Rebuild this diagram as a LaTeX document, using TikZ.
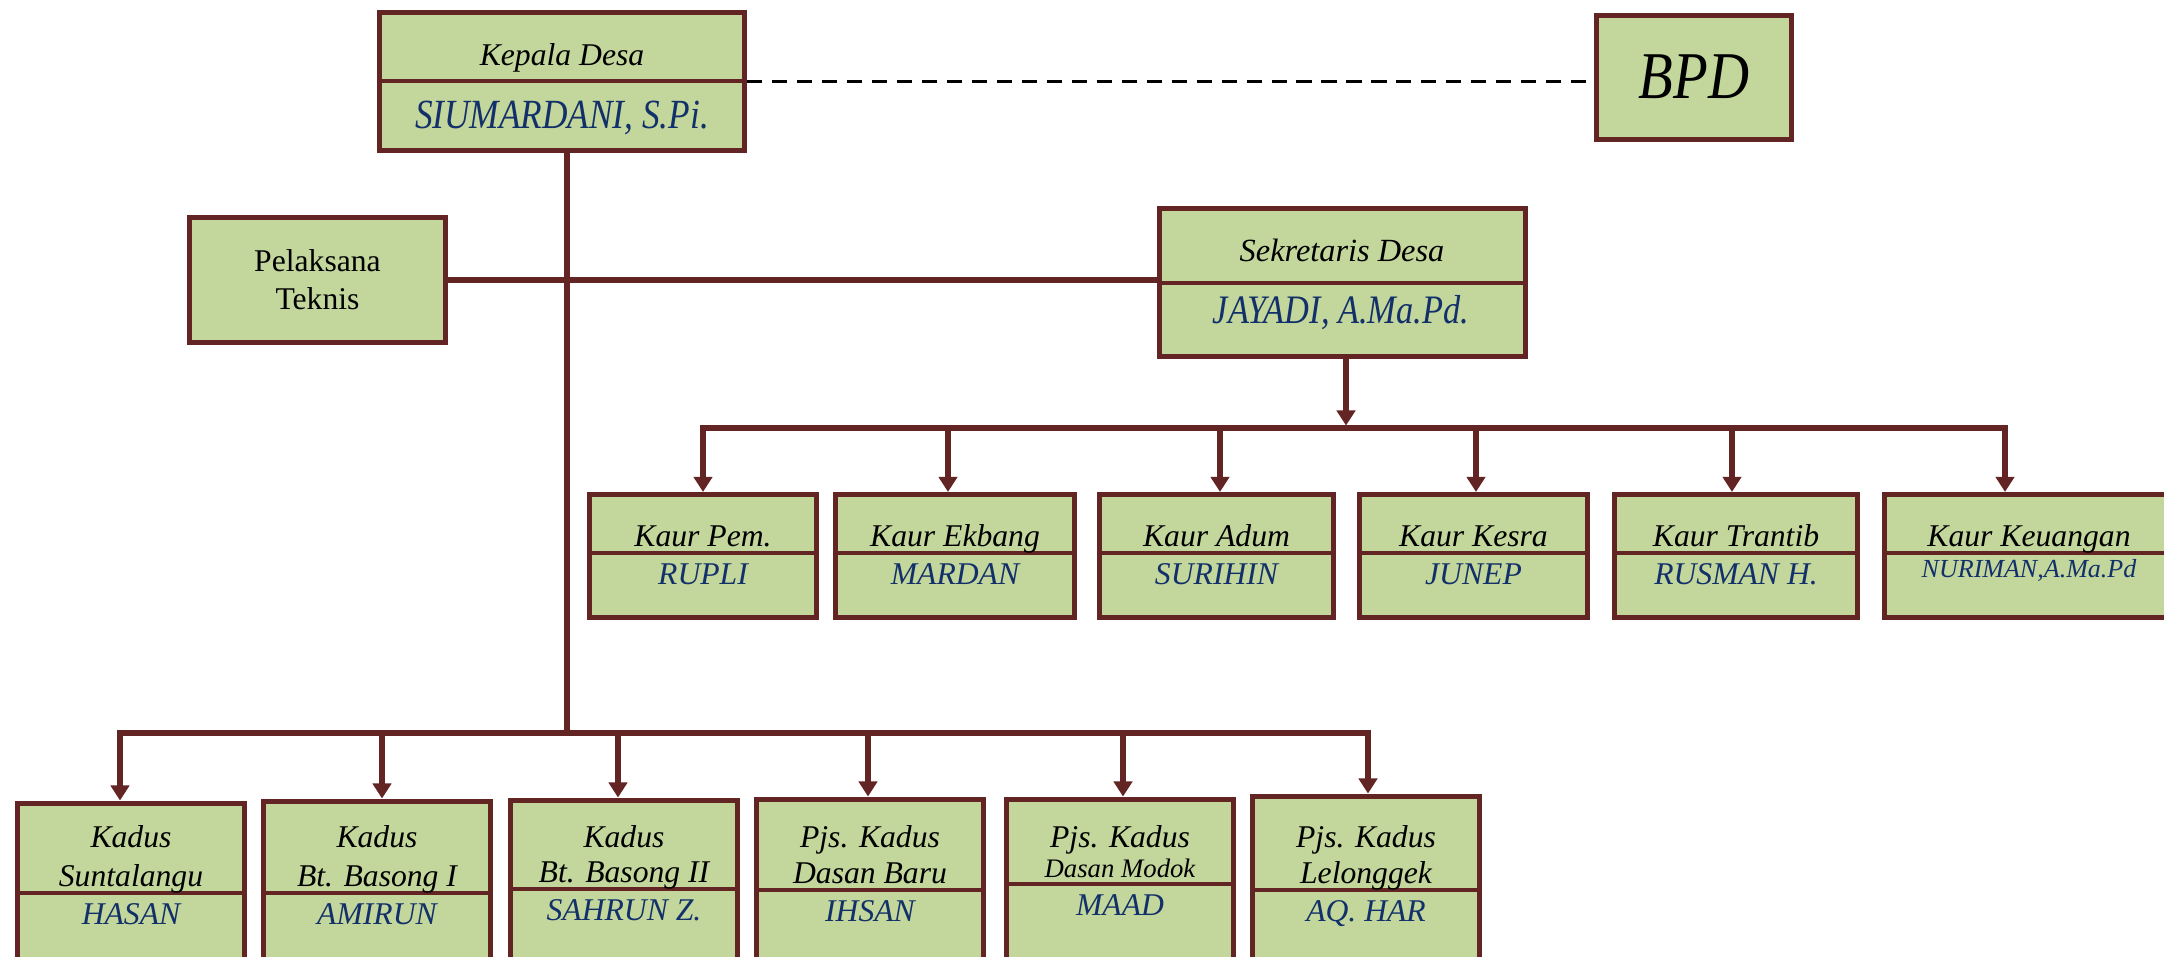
\documentclass[tikz,border=0pt]{standalone}
\usepackage{fontspec}
\setmainfont{Liberation Serif}
\newfontfamily\namafont[FakeStretch=0.85]{Liberation Serif}
\usepackage{tikz}
\usetikzlibrary{arrows.meta,positioning}
\definecolor{hijau}{HTML}{C3D69B}
\definecolor{marun}{HTML}{632523}
\definecolor{biru}{HTML}{12306A}

\tikzset{
  kotak/.style={draw=marun, fill=hijau, line width=1.45pt, inner sep=0pt},
  sekat/.style={draw=marun, line width=1.1pt},
  garis/.style={draw=marun, line width=1.5pt, line join=miter},
  panah/.style={garis, -{Triangle[width=5.2pt,length=4.3pt]}},
  panahdua/.style={garis, {Triangle[width=5.2pt,length=4.3pt]}-{Triangle[width=5.2pt,length=4.3pt]}},
  jab/.style={font=\fontsize{9}{10.5}\selectfont\itshape, anchor=base},
  nama/.style={font=\fontsize{9}{10.5}\selectfont\itshape, text=biru, anchor=base}
}

\begin{document}
\begin{tikzpicture}[x=0.01cm, y=-0.01cm]
\useasboundingbox (0,0) rectangle (2164,956);
\clip (0,0) rectangle (2164,956);

% Kepala desa and BPD
\node[kotak, minimum width=3.65cm, minimum height=1.38cm] (kades) at (562,81.5) {};
\draw[sekat] (kades.west |- 0,81) -- (kades.east |- 0,81);
\node[jab] at (562,65) {Kepala Desa};
\node[nama, font=\namafont\itshape\fontsize{11.8}{14}\selectfont] at (562,128) {SIUMARDANI, S.Pi.};
\node[kotak, minimum width=1.95cm, minimum height=1.24cm] (bpd) at (1694,77.5) {};
\node[anchor=base, font=\namafont\itshape\fontsize{19}{22}\selectfont] at (1694,98) {BPD};
\draw[black, line width=0.9pt, dash pattern=on 4.3pt off 2.8pt] (kades.east) -- (kades.east -| bpd.west);

% Sekretaris and pelaksana teknis
\node[kotak, minimum width=2.56cm, minimum height=1.25cm, align=center, font=\fontsize{9}{10.8}\selectfont] (pt) at (317.5,280) {Pelaksana\\Teknis};
\node[kotak, minimum width=3.66cm, minimum height=1.48cm] (sekdes) at (1342.5,282.5) {};
\draw[sekat] (sekdes.west |- 0,283) -- (sekdes.east |- 0,283);
\node[jab, font=\fontsize{9.2}{11}\selectfont\itshape] at (1342,261) {Sekretaris Desa};
\node[nama, font=\namafont\itshape\fontsize{11.5}{14}\selectfont] at (1341,323) {JAYADI, A.Ma.Pd.};
\draw[garis] (pt.east) -- (pt.east -| sekdes.west);
\coordinate (cabang) at (567,733);
\draw[garis] (kades.south -| cabang) -- (cabang);

% Kaur row
\foreach \no/\cx/\w/\dx/\jab/\nama in {1/703/2.27/703/Kaur Pem./RUPLI, 2/955/2.39/948/Kaur Ekbang/MARDAN,
    3/1216.5/2.34/1220/Kaur Adum/SURIHIN, 4/1473.5/2.28/1476/Kaur Kesra/JUNEP,
    5/1736/2.43/1732/Kaur Trantib/RUSMAN H., 6/2029/2.89/2005/Kaur Keuangan/{}}{
  \node[kotak, minimum width=\w cm, minimum height=1.23cm] (kaur\no) at (\cx,556) {};
  \draw[sekat] (kaur\no.west |- 0,553) -- (kaur\no.east |- 0,553);
  \node[jab] at (\cx,546) {\jab};
  \node[nama] at (\cx,584) {\nama};
  \coordinate (t\no) at (\dx,428);
}
\node[nama, font=\fontsize{7.4}{9}\selectfont\itshape] at (2029,577) {NURIMAN,A.Ma.Pd};
\coordinate (busK) at (1346,428);
\draw[panah, shorten >=0.7pt] (sekdes.south -| busK) -- (busK);
\draw[panahdua] (kaur1.north -| t1) -- (t1) -- (t6) -- (kaur6.north -| t6);
\foreach \no in {2,...,5}
  \draw[panah] (t\no) -- (t\no |- kaur\no.north);

% Kadus row
\foreach \no/\cx/\top/\dx/\sek/\ja/\jb/\nama in {1/131/800.5/120/893/Kadus/Suntalangu/HASAN,
    2/377/798.5/382/893/Kadus/Bt. Basong I/AMIRUN, 3/624/797.5/618/889/Kadus/Bt. Basong II/SAHRUN Z.,
    4/870/796.5/868/890/Pjs. Kadus/Dasan Baru/IHSAN,
    5/1120/796.5/1123/884/Pjs. Kadus/{\fontsize{7.6}{9}\selectfont Dasan Modok}/MAAD,
    6/1366/793.5/1368/890/Pjs. Kadus/Lelonggek/AQ. HAR}{
  \node[kotak, anchor=north, minimum width=2.27cm, minimum height=2cm] (kadus\no) at (\cx,\top) {};
  \draw[sekat] (kadus\no.west |- 0,\sek) -- (kadus\no.east |- 0,\sek);
  \node[jab] at (\cx,847) {\ja};
  \node[jab] at (\cx,\sek-7) {\jb};
  \node[nama] at (\cx,\sek+31) {\nama};
  \coordinate (b\no) at (\dx,733);
}
\draw[panahdua] (kadus1.north -| b1) -- (b1) -- (b6) -- (kadus6.north -| b6);
\foreach \no in {2,...,5}
  \draw[panah] (b\no) -- (b\no |- kadus\no.north);
\end{tikzpicture}
\end{document}
